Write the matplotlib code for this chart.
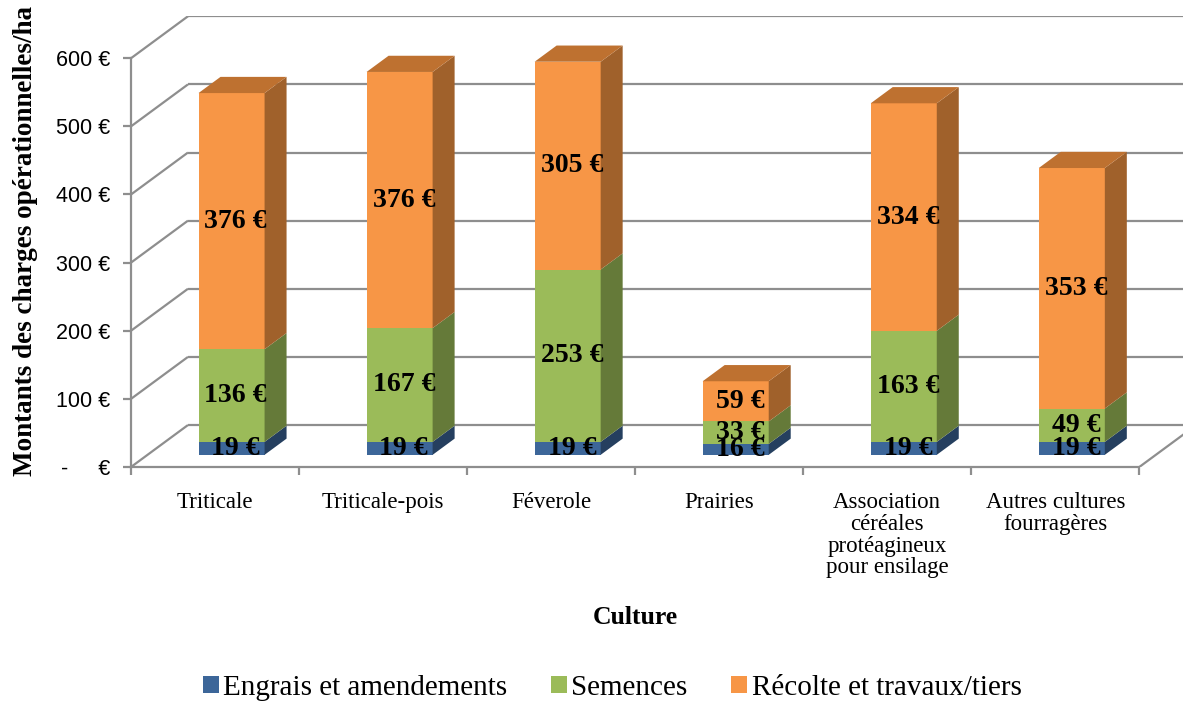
import numpy as np
import matplotlib
matplotlib.use('Agg')
import matplotlib.pyplot as plt
from matplotlib.patches import Polygon, Patch

# charges opérationnelles par culture (€/ha)
cultures = ['Triticale', 'Triticale-pois', 'Féverole', 'Prairies',
            'Association\ncéréales\nprotéagineux\npour ensilage',
            'Autres cultures\nfourragères']
engrais = [19, 19, 19, 16, 19, 19]
semences = [136, 167, 253, 33, 163, 49]
recolte = [376, 376, 305, 59, 334, 353]

series_names = ['Engrais et amendements', 'Semences', 'Récolte et travaux/tiers']
series_values = [engrais, semences, recolte]
# front, side, top face colours
front_cols = ['#3C6699', '#9BBB59', '#F79646']
side_cols = ['#253F5F', '#657A39', '#A0612B']
top_cols = ['#2F5078', '#7A9446', '#BE7130']

yticks = [0, 100, 200, 300, 400, 500, 600]
ytick_labels = ['-     €', '100 €', '200 €', '300 €', '400 €', '500 €', '600 €']

serif = 'Liberation Serif'
sans = 'Liberation Sans'

# fake 3D: full depth of the plot box expressed in data units
DX = 0.339   # category units
DY = 61.6    # euros
z0, z1 = 0.29, 0.676   # bar front / back depth fraction
bar_w = 0.393

fig = plt.figure(figsize=(11.83, 7.04), dpi=100)
ax = fig.add_axes([131 / 1183, 237 / 704, 1052 / 1183, 451 / 704])
ax.set_xlim(-0.5, 5.76)
ax.set_ylim(0, 662)

grid_kw = dict(color='#8E8E8E', lw=1.6, zorder=1, solid_capstyle='butt')
n = len(cultures)

# back wall, left wall and floor
for v in yticks:
    ax.plot([-0.5, -0.5 + DX], [v, v + DY], **grid_kw)
    ax.plot([-0.5 + DX, n - 0.5 + DX], [v + DY, v + DY], **grid_kw)
ax.plot([n - 0.5, n - 0.5 + DX], [0, DY], **grid_kw)

# stacked 3D columns
x = np.arange(n)
xf = x + z0 * DX
ybase = z0 * DY
bdx = (z1 - z0) * DX
bdy = (z1 - z0) * DY
cum = np.zeros(n)
for k, vals in enumerate(series_values):
    vals = np.array(vals, dtype=float)
    ax.bar(xf, vals, bar_w, bottom=ybase + cum, color=front_cols[k],
           linewidth=0, zorder=3)
    for i in range(n):
        xr = xf[i] + bar_w / 2
        yb = ybase + cum[i]
        yt = yb + vals[i]
        ax.add_patch(Polygon([(xr, yb), (xr + bdx, yb + bdy), (xr + bdx, yt + bdy), (xr, yt)],
                             closed=True, facecolor=side_cols[k], lw=0, zorder=3))
        if k == len(series_values) - 1:
            xl = xf[i] - bar_w / 2
            ax.add_patch(Polygon([(xl, yt), (xr, yt), (xr + bdx, yt + bdy), (xl + bdx, yt + bdy)],
                                 closed=True, facecolor=top_cols[k], lw=0, zorder=3))
        ax.text(xf[i] + 0.025, yb + vals[i] / 2, f'{int(vals[i])} €', ha='center', va='center',
                fontsize=20, fontweight='bold', family=serif, zorder=5)
    cum += vals

# axes styling
for s in ['top', 'right']:
    ax.spines[s].set_visible(False)
for s in ['left', 'bottom']:
    ax.spines[s].set_color('#8E8E8E')
    ax.spines[s].set_linewidth(1.6)
ax.spines['left'].set_bounds(0, 600)
ax.spines['bottom'].set_bounds(-0.5, n - 0.5)

ax.set_yticks(yticks)
ax.set_yticklabels(ytick_labels, fontsize=15.5, family=sans)
ax.tick_params(axis='y', length=6, width=1.6, color='#8E8E8E', pad=9)

ax.set_xticks(x)
ax.set_xticklabels(cultures, fontsize=16.5, family=serif, linespacing=1.05)
ax.set_xticks(np.arange(n + 1) - 0.5, minor=True)
ax.tick_params(axis='x', which='major', length=0, pad=18)
ax.tick_params(axis='x', which='minor', length=6, width=1.6, color='#8E8E8E')

fig.text(26 / 1183, 1 - 241 / 704, 'Montants des charges opérationnelles/ha', rotation=90,
         ha='center', va='center', fontsize=19.5, fontweight='bold', family=serif)
fig.text(635 / 1183, 1 - 618 / 704, 'Culture', ha='center', va='center',
         fontsize=18.5, fontweight='bold', family=serif)

handles = [Patch(facecolor=c, edgecolor='none') for c in front_cols]
fig.legend(handles, series_names, loc='center', bbox_to_anchor=(612 / 1183, 1 - 688 / 704),
           ncol=3, frameon=False, prop={'family': serif, 'size': 21},
           handlelength=0.55, handleheight=0.55, handletextpad=0.15, columnspacing=1.5)

fig.savefig('out.png', dpi=100)
